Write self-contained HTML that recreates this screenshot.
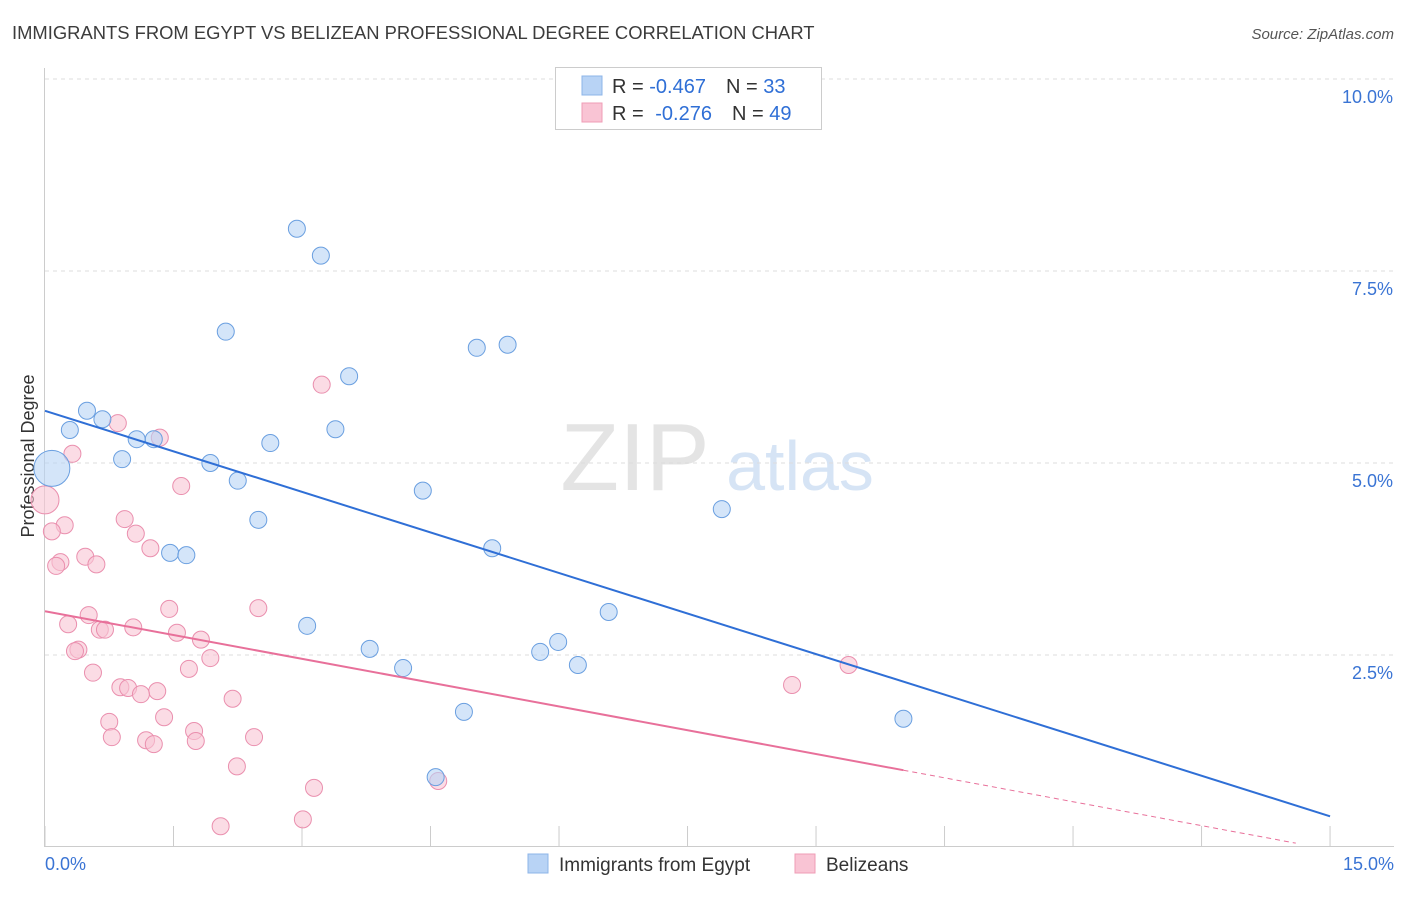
<!DOCTYPE html>
<html><head><meta charset="utf-8"><style>
body{margin:0;background:#fff;font-family:"Liberation Sans",sans-serif;}
svg text{font-family:"Liberation Sans",sans-serif;}
</style></head><body>
<svg id="c" width="1406" height="892" xmlns="http://www.w3.org/2000/svg">
<text x="12" y="39" font-size="18.4" fill="#3c3c3c">IMMIGRANTS FROM EGYPT VS BELIZEAN PROFESSIONAL DEGREE CORRELATION CHART</text>
<text x="1394" y="39" font-size="15" fill="#555" font-style="italic" text-anchor="end">Source: ZipAtlas.com</text>
<text x="34" y="456" font-size="18" fill="#333" text-anchor="middle" transform="rotate(-90 34 456)">Professional Degree</text>
<g>
<text x="635" y="490" font-size="96" fill="#e4e4e4" font-family="Liberation Serif" text-anchor="middle">ZIP</text>
<text x="800" y="490" font-size="70" fill="#d6e4f5" text-anchor="middle">atlas</text>
</g>
<g id="grid"></g><g id="marks"></g>
<g>
<rect x="555.5" y="67.5" width="266" height="62" fill="#fff" stroke="#ccc"/>
<rect x="582" y="76" width="20" height="19" fill="#b8d3f5" stroke="#8db4e8"/>
<rect x="582" y="103" width="20" height="19" fill="#f9c4d4" stroke="#ef9cb6"/>
<text x="612" y="93" font-size="20" fill="#333">R = <tspan fill="#2f6fd6">-0.467</tspan><tspan dx="20">N = </tspan><tspan fill="#2f6fd6">33</tspan></text>
<text x="612" y="120" font-size="20" fill="#333">R = <tspan fill="#2f6fd6" dx="6">-0.276</tspan><tspan dx="20">N = </tspan><tspan fill="#2f6fd6">49</tspan></text>
</g>
<g>
<rect x="528" y="854" width="20" height="19" fill="#b8d3f5" stroke="#8db4e8"/>
<text x="559" y="871" font-size="19" fill="#333">Immigrants from Egypt</text>
<rect x="795" y="854" width="20" height="19" fill="#f9c4d4" stroke="#ef9cb6"/>
<text x="826" y="871" font-size="19" fill="#333">Belizeans</text>
</g>
</svg>
<script>
const yTicks=[2.5,5.0,7.5,10.0];
const xTickLabels=["0.0%","15.0%"];
const blueX=[2.94,3.22,2.11,5.04,5.40,3.55,0.49,0.29,0.67,1.07,1.27,3.39,2.63,0.90,1.93,0.08,2.25,4.41,7.90,2.49,1.46,1.65,5.22,6.58,3.06,5.99,5.78,3.79,4.18,6.22,4.89,10.02,4.56];
const blueY=[8.05,7.70,6.71,6.50,6.54,6.13,5.68,5.43,5.57,5.31,5.31,5.44,5.26,5.05,5.00,4.93,4.77,4.64,4.40,4.26,3.83,3.80,3.89,3.06,2.88,2.67,2.54,2.58,2.33,2.37,1.76,1.67,0.91];
const pinkX=[3.23,0.85,1.34,0.32,1.59,0.0,0.23,0.93,0.08,1.06,1.23,0.18,0.13,0.47,0.60,2.49,1.45,0.51,0.27,1.03,0.64,0.70,1.54,1.82,0.39,0.35,1.93,1.68,0.56,0.88,0.97,1.31,1.12,2.19,1.39,0.75,1.74,0.78,2.44,1.18,1.27,1.76,2.24,3.14,4.59,3.01,2.05,8.72,9.38];
const pinkY=[6.02,5.52,5.33,5.12,4.70,4.52,4.19,4.27,4.11,4.08,3.89,3.71,3.66,3.78,3.68,3.11,3.10,3.02,2.90,2.86,2.83,2.83,2.79,2.70,2.57,2.55,2.46,2.32,2.27,2.08,2.07,2.03,1.99,1.93,1.69,1.63,1.51,1.43,1.43,1.39,1.34,1.38,1.05,0.77,0.86,0.36,0.27,2.11,2.37];
const blueTrend=[5.68,0.40];
const pinkTrend=[3.07,1.0,0.05];
const pinkTrendX=[0,10.02,14.6];
const X=v=>45+v*85.67, Y=v=>847-v*76.8;
const NS="http://www.w3.org/2000/svg";
const grid=document.getElementById('grid'), marks=document.getElementById('marks');
function mk(tag,attrs,parent){const e=document.createElementNS(NS,tag);for(const k in attrs)e.setAttribute(k,attrs[k]);parent.appendChild(e);return e;}
yTicks.forEach(t=>{
 const l=mk('line',{x1:45,x2:1394,y1:Y(t),y2:Y(t),stroke:'#ddd','stroke-dasharray':'4 4'},grid);
 
 
 const tx=mk('text',{x:1393,y:Y(t)+24,'font-size':18,fill:'#3a74d4','text-anchor':'end'},grid);
 tx.textContent=t.toFixed(1)+'%';
 
 
});
const ax=mk('line',{x1:45,x2:1394,y1:846.5,y2:846.5,stroke:'#ccc'},grid);


const ay=mk('line',{x1:44.5,x2:44.5,y1:68,y2:847,stroke:'#ccc'},grid);


for(let i=0;i<=10;i++){const t=mk('line',{x1:X(i*1.5),x2:X(i*1.5),y1:826,y2:847,stroke:'#ccc'},grid);
 
 }
xTickLabels.forEach((s,i)=>{const t=mk('text',{x:i?1394:45,y:870,'font-size':18,fill:'#3a74d4','text-anchor':i?'end':'start'},grid);t.textContent=s;
 
 });
function dot(x,y,r,fill,stroke,name){const c=mk('circle',{cx:X(x),cy:Y(y),r:r,fill:fill,stroke:stroke,'stroke-width':1,'fill-opacity':0.6},marks);
 
 }
pinkX.forEach((x,i)=>dot(x,pinkY[i],x===0?14:8.5,'#f9c4d4','#ea8fae','belizean-point'));
blueX.forEach((x,i)=>dot(x,blueY[i],i===15?18:8.5,'#b8d3f5','#6a9fe0','egypt-point'));
const bl=mk('line',{x1:X(0),y1:Y(blueTrend[0]),x2:X(15),y2:Y(blueTrend[1]),stroke:'#2f6fd6','stroke-width':2},marks);


const pl=mk('line',{x1:X(pinkTrendX[0]),y1:Y(pinkTrend[0]),x2:X(pinkTrendX[1]),y2:Y(pinkTrend[1]),stroke:'#e8709a','stroke-width':2},marks);


const pd=mk('line',{x1:X(pinkTrendX[1]),y1:Y(pinkTrend[1]),x2:X(pinkTrendX[2]),y2:Y(pinkTrend[2]),stroke:'#e8709a','stroke-width':1,'stroke-dasharray':'5 4'},marks);


</script>
</body></html>
